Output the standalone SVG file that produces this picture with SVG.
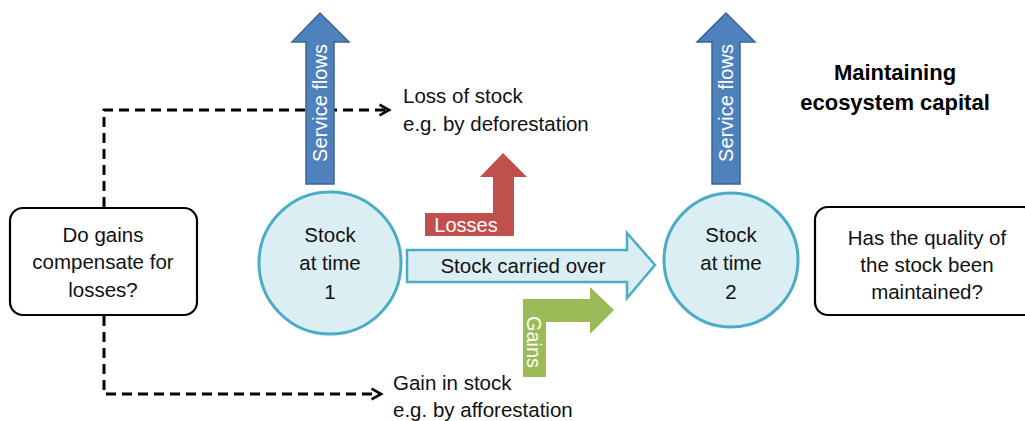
<svg xmlns="http://www.w3.org/2000/svg" width="1025" height="421" viewBox="0 0 1025 421">
  <defs>
    <style>
      .lbl { font-family: "Liberation Sans", Arial, sans-serif; font-size: 20.5px; fill: #111; }
      .inv { font-family: "Liberation Sans", Arial, sans-serif; font-size: 20px; fill: #fff; }
      .title { font-family: "Liberation Sans", Arial, sans-serif; font-size: 22px; font-weight: bold; fill: #000; }
      .stock { fill: #dbeef4; stroke: #4bacc6; stroke-width: 3; }
      .box { fill: #fff; stroke: #000; stroke-width: 2.2; }
      .svc { fill: #4f81bd; stroke: #3a6496; stroke-width: 1.5; }
      .dash { fill: none; stroke: #000; stroke-width: 3; stroke-dasharray: 10 6; }
    </style>
    <marker id="openArrow" viewBox="0 0 10 10" refX="8" refY="5" markerWidth="4.5" markerHeight="4.5" orient="auto" markerUnits="strokeWidth">
      <path d="M1,1 L8,5 L1,9" fill="none" stroke="#000" stroke-width="2"/>
    </marker>
  </defs>

  <rect width="1025" height="421" fill="#fff"/>

  <!-- dashed connectors from the question box -->
  <g id="connectors">
    <path class="dash" d="M104,207 V110 H389" marker-end="url(#openArrow)"/>
    <path class="dash" d="M104,316 V394 H381" marker-end="url(#openArrow)"/>
  </g>

  <!-- service flow arrows -->
  <g id="service-flows-1">
    <path class="svc" d="M306,184 V42 H292 L320,13 L349,42 H334 V184 Z"/>
    <text class="inv" transform="translate(327,103) rotate(-90)" text-anchor="middle">Service flows</text>
  </g>
  <g id="service-flows-2">
    <path class="svc" d="M712,184 V42 H697 L726,13 L755,42 H740 V184 Z"/>
    <text class="inv" transform="translate(733,103) rotate(-90)" text-anchor="middle">Service flows</text>
  </g>

  <!-- losses (bent arrow up) -->
  <g id="losses">
    <path d="M425,213 H493 V177 H480 L503,153 L527,177 H514 V236 H425 Z" fill="#c0504d"/>
    <text class="inv" x="466" y="232" text-anchor="middle">Losses</text>
  </g>

  <!-- stock carried over -->
  <g id="carried-over">
    <path d="M407,250 H627 V233 L655,265 L627,298 V282 H407 Z" fill="#dbeef4" stroke="#4bacc6" stroke-width="2.5"/>
    <text class="lbl" x="523" y="273" text-anchor="middle">Stock carried over</text>
  </g>

  <!-- gains (bent arrow right) -->
  <g id="gains">
    <path d="M523,377 V299 H590 V287 L614,310 L590,334 V322 H546 V377 Z" fill="#9bbb59"/>
    <text class="inv" transform="translate(527,342) rotate(90)" text-anchor="middle">Gains</text>
  </g>

  <!-- stocks -->
  <g id="stock-1">
    <circle class="stock" cx="330" cy="263" r="71"/>
    <text class="lbl" x="330" y="242" text-anchor="middle">Stock</text>
    <text class="lbl" x="330" y="270" text-anchor="middle">at time</text>
    <text class="lbl" x="330" y="299" text-anchor="middle">1</text>
  </g>
  <g id="stock-2">
    <circle class="stock" cx="731" cy="260" r="67"/>
    <text class="lbl" x="731" y="242" text-anchor="middle">Stock</text>
    <text class="lbl" x="731" y="270" text-anchor="middle">at time</text>
    <text class="lbl" x="731" y="299" text-anchor="middle">2</text>
  </g>

  <!-- question boxes -->
  <g id="q-compensate">
    <rect class="box" x="10" y="208" width="187" height="107" rx="13"/>
    <text class="lbl" x="103" y="242" text-anchor="middle">Do gains</text>
    <text class="lbl" x="103" y="269" text-anchor="middle">compensate for</text>
    <text class="lbl" x="103" y="297" text-anchor="middle">losses?</text>
  </g>
  <g id="q-quality">
    <rect class="box" x="815" y="207" width="222" height="108" rx="13"/>
    <text class="lbl" x="927" y="245" text-anchor="middle">Has the quality of</text>
    <text class="lbl" x="927" y="272" text-anchor="middle">the stock been</text>
    <text class="lbl" x="927" y="299" text-anchor="middle">maintained?</text>
  </g>

  <!-- outcome notes -->
  <g id="loss-note">
    <text class="lbl" x="403" y="103">Loss of stock</text>
    <text class="lbl" x="403" y="131">e.g. by deforestation</text>
  </g>
  <g id="gain-note">
    <text class="lbl" x="393" y="390">Gain in stock</text>
    <text class="lbl" x="393" y="417">e.g. by afforestation</text>
  </g>

  <g id="title">
    <text class="title" x="895" y="80" text-anchor="middle">Maintaining</text>
    <text class="title" x="895" y="110" text-anchor="middle">ecosystem capital</text>
  </g>
</svg>
